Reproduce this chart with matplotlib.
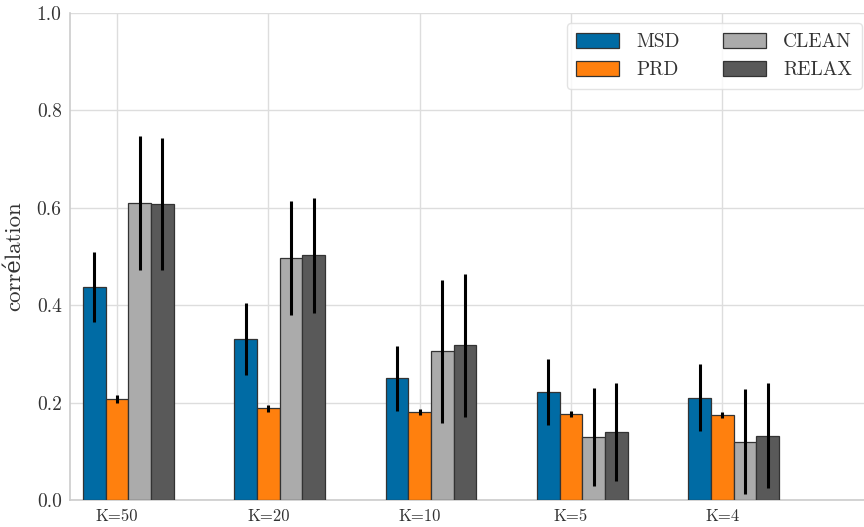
import numpy as np
import matplotlib
matplotlib.use('Agg')
import matplotlib.pyplot as plt

plt.rcParams['font.family'] = ['cmr10', 'DejaVu Serif']
plt.rcParams['mathtext.fontset'] = 'cm'
plt.rcParams['axes.formatter.use_mathtext'] = True

groups = ['K=50', 'K=20', 'K=10', 'K=5', 'K=4']
methods = ['MSD', 'PRD', 'CLEAN', 'RELAX']
colors = ['#006BA4', '#FF800E', '#ABABAB', '#595959']

msd = [0.437, 0.330, 0.250, 0.222, 0.210]
msd_err = [0.072, 0.074, 0.067, 0.068, 0.069]
prd = [0.207, 0.188, 0.180, 0.177, 0.175]
prd_err = [0.008, 0.007, 0.006, 0.006, 0.006]
clean = [0.610, 0.497, 0.305, 0.129, 0.120]
clean_err = [0.137, 0.118, 0.147, 0.100, 0.108]
relax = [0.608, 0.503, 0.318, 0.140, 0.132]
relax_err = [0.136, 0.118, 0.147, 0.100, 0.108]

values = [msd, prd, clean, relax]
errors = [msd_err, prd_err, clean_err, relax_err]

fig = plt.figure(figsize=(8.64, 5.27), dpi=100)
ax = fig.add_axes([0.081, 0.0512, 0.919, 0.9241])

x = np.arange(len(groups))
w = 0.15
for i in range(len(methods)):
    ax.bar(x + (i - 1) * w, values[i], w, yerr=errors[i], color=colors[i],
           edgecolor='#333333', linewidth=0.9, label=methods[i],
           error_kw=dict(ecolor='black', elinewidth=2.2, capsize=0), zorder=3)

ax.set_xticks(x)
ax.set_xticklabels(groups, fontsize=12)
ax.set_yticks(np.arange(0, 1.01, 0.2))
ax.set_yticklabels(['%.1f' % v for v in np.arange(0, 1.01, 0.2)], fontsize=14)
ax.set_ylim(0, 1.0)
ax.set_xlim(-0.311, 4.937)
ax.set_ylabel('corrélation', fontsize=16.5, color='#333333')
ax.yaxis.set_label_coords(-0.057, 0.5)

ax.grid(True, color='#dddddd', linewidth=1.0, zorder=0)
ax.set_axisbelow(True)
ax.tick_params(length=0, colors='#333333', pad=6)
for s in ['top', 'right']:
    ax.spines[s].set_visible(False)
for s in ['left', 'bottom']:
    ax.spines[s].set_color('#cccccc')
    ax.spines[s].set_linewidth(1.2)

leg = ax.legend(loc='upper right', ncol=2, fontsize=14, frameon=True,
                handlelength=2.2, handleheight=0.8, handletextpad=0.9,
                columnspacing=2.2, borderpad=0.5, borderaxespad=0,
                bbox_to_anchor=(0.9975, 0.9795))
leg.get_frame().set_edgecolor('#dddddd')
for t in leg.get_texts():
    t.set_color('#333333')

fig.savefig('out.png', dpi=100)
